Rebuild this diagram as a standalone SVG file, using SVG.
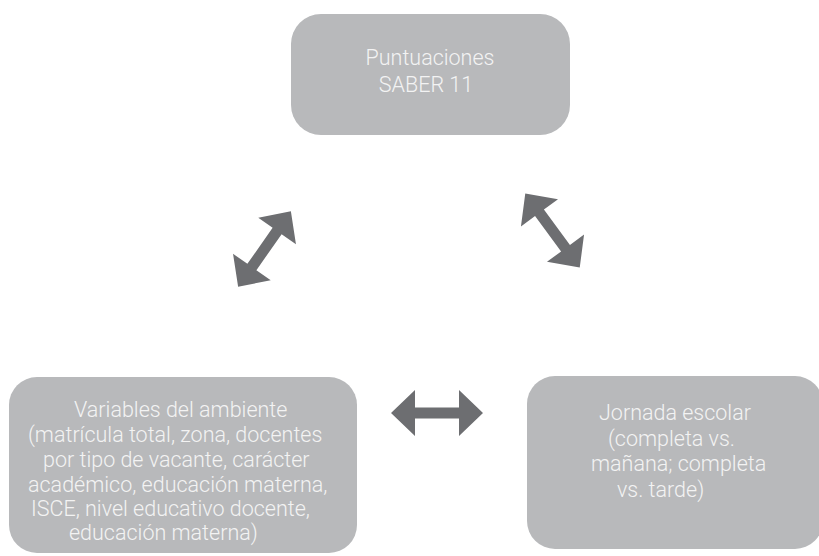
<svg xmlns="http://www.w3.org/2000/svg" width="819" height="556" viewBox="0 0 819 556">
  <defs>
    <style>
      .box { fill: #b8b9bb; }
      .lbl { font-family: Roboto, "Liberation Sans", sans-serif; font-weight: 300; font-size: 21.5px; fill: #f3f3f3; }
      .arr { fill: #6d6e71; }
    </style>
    <polygon id="dbl" class="arr" points="-46,0 -22,-23 -22,-5.5 22,-5.5 22,-23 46,0 22,23 22,5.5 -22,5.5 -22,23"/>
  </defs>
  <rect width="819" height="556" fill="#ffffff"/>

  <g id="node-puntuaciones">
    <rect class="box" x="291" y="14" width="279" height="121" rx="30" ry="30"/>
    <text class="lbl" text-anchor="middle"><tspan x="430" y="65">Puntuaciones</tspan><tspan x="426" y="92">SABER 11</tspan></text>
  </g>

  <g id="node-variables">
    <rect class="box" x="9" y="377" width="348" height="176" rx="28" ry="28"/>
    <text class="lbl">
      <tspan x="74" y="417">Variables del ambiente</tspan>
      <tspan x="28" y="442">(matrícula total, zona, docentes</tspan>
      <tspan x="43" y="467">por tipo de vacante, carácter</tspan>
      <tspan x="28" y="492">académico, educación materna,</tspan>
      <tspan x="31" y="516">ISCE, nivel educativo docente,</tspan>
      <tspan x="69" y="540">educación materna)</tspan>
    </text>
  </g>

  <g id="node-jornada">
    <rect class="box" x="527" y="376" width="296" height="173" rx="28" ry="28"/>
    <text class="lbl">
      <tspan x="599" y="420">Jornada escolar</tspan>
      <tspan x="608" y="446">(completa vs.</tspan>
      <tspan x="591" y="471">mañana; completa</tspan>
      <tspan x="617" y="497">vs. tarde)</tspan>
    </text>
  </g>

  <g id="connectors">
    <use href="#dbl" transform="translate(264.5,249) rotate(-55)"/>
    <use href="#dbl" transform="translate(552.5,230.5) rotate(53.7)"/>
    <use href="#dbl" transform="translate(437,413)"/>
  </g>
</svg>
